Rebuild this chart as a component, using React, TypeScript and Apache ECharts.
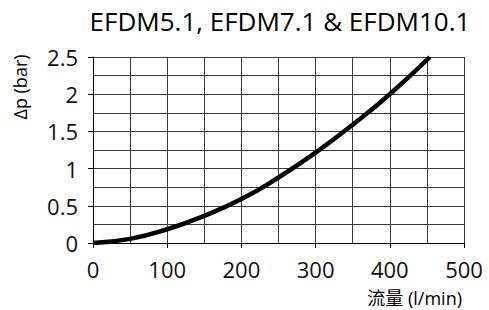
import React, { useEffect, useRef } from "react";
import * as echarts from "echarts";

const titleText = "EFDM5.1, EFDM7.1 & EFDM10.1";
const xName = "流量 (l/min)";
const yName = "Δp (bar)";
const flow = [0, 50, 100, 150, 200, 250, 300, 350, 400, 454];
const dp = [0, 0.055, 0.185, 0.365, 0.59, 0.88, 1.215, 1.59, 2.0, 2.5];

const FONT = "'Open Sans', 'Noto Sans CJK SC', sans-serif";

export default function App() {
  const ref = useRef<HTMLDivElement>(null);
  useEffect(() => {
    if (!ref.current) return;
    const chart = echarts.init(ref.current, undefined, { renderer: "svg" });
    const gridColor = "#3a3a3a";
    chart.setOption({
      animation: false,
      backgroundColor: "#ffffff",
      title: {
        text: titleText,
        left: 275,
        textAlign: "center",
        top: 3,
        textStyle: { fontFamily: FONT, fontSize: 26, fontWeight: "normal", color: "#000" },
      },
      grid: { left: 93, right: 25, top: 57, bottom: 67, containLabel: false },
      xAxis: {
        type: "value",
        min: 0,
        max: 500,
        interval: 100,
        axisLine: { show: true, onZero: false, lineStyle: { color: "#000", width: 1 } },
        axisTick: { show: true, length: 5, lineStyle: { color: "#000" } },
        minorTick: { show: false, splitNumber: 2 },
        splitLine: { show: true, lineStyle: { color: gridColor, width: 1 } },
        minorSplitLine: { show: true, lineStyle: { color: gridColor, width: 1 } },
        axisLabel: { fontFamily: FONT, fontSize: 22, color: "#111", margin: 15 },
      },
      yAxis: {
        type: "value",
        min: 0,
        max: 2.5,
        interval: 0.5,
        axisLine: { show: true, onZero: false, lineStyle: { color: "#000", width: 1 } },
        axisTick: { show: true, length: 5, lineStyle: { color: "#000" } },
        minorTick: { show: false, splitNumber: 2 },
        splitLine: { show: true, lineStyle: { color: gridColor, width: 1 } },
        minorSplitLine: { show: true, lineStyle: { color: gridColor, width: 1 } },
        axisLabel: { fontFamily: FONT, fontSize: 22, color: "#111", margin: 15 },
      },
      graphic: [
        {
          type: "text",
          x: 20,
          y: 87,
          rotation: Math.PI / 2,
          style: {
            text: yName,
            fontFamily: FONT,
            fontSize: 18,
            fill: "#000",
            align: "center",
            verticalAlign: "middle",
          },
        },
        {
          type: "text",
          x: 462,
          y: 298,
          style: {
            text: xName,
            fontFamily: FONT,
            fontSize: 18,
            fill: "#000",
            align: "right",
            verticalAlign: "middle",
          },
        },
      ],
      series: [
        {
          type: "line",
          data: flow.map((f, i) => [f, dp[i]]),
          smooth: true,
          showSymbol: false,
          lineStyle: { color: "#000", width: 4.5 },
        },
      ],
    });
    return () => chart.dispose();
  }, []);
  return <div ref={ref} style={{ width: 489, height: 310, position: "absolute", left: 0, top: 0 }} />;
}
